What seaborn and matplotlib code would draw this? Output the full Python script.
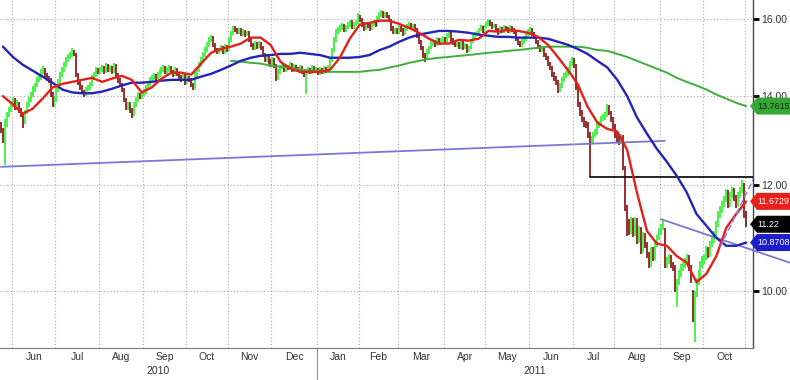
import numpy as np
import pandas as pd
import matplotlib
matplotlib.use("Agg")
import matplotlib.pyplot as plt
import matplotlib.transforms as mtransforms
from matplotlib.patches import Polygon
from matplotlib.ticker import NullLocator, NullFormatter, FixedLocator, FixedFormatter
import seaborn as sns

# Daily bars, one row per trading week (Mon..Fri), first day Mon 24 May 2010
first_open = 13.30
closes = [
    13.21, 12.98, 13.33, 13.56, 13.67,
    13.80, 13.91, 13.73, 13.82, 13.67,
    13.56, 13.39, 13.63, 13.80, 13.91,
    14.04, 14.16, 14.28, 14.40, 14.45,
    14.60, 14.65, 14.53, 14.45, 14.40,
    14.04, 13.80, 13.91, 14.16, 14.35,
    14.53, 14.65, 14.78, 14.91, 14.96,
    15.03, 15.11, 15.06, 14.53, 14.35,
    14.21, 14.11, 14.04, 14.16, 14.21,
    14.28, 14.45, 14.53, 14.65, 14.60,
    14.65, 14.71, 14.60, 14.76, 14.65,
    14.71, 14.60, 14.76, 14.53, 14.40,
    14.28, 14.16, 13.91, 13.73, 13.80,
    13.67, 13.56, 13.80, 13.91, 14.04,
    13.97, 14.04, 14.11, 14.21, 14.28,
    14.40, 14.45, 14.50, 14.40, 14.53,
    14.60, 14.65, 14.71, 14.60, 14.65,
    14.71, 14.60, 14.53, 14.65, 14.55,
    14.45, 14.40, 14.50, 14.35, 14.45,
    14.40, 14.28, 14.21, 14.53, 14.65,
    14.78, 14.91, 15.03, 15.16, 15.30,
    15.43, 15.49, 15.30, 15.16, 15.11,
    15.16, 15.22, 15.11, 15.25, 15.19,
    15.43, 15.62, 15.75, 15.70, 15.65,
    15.70, 15.59, 15.65, 15.57, 15.62,
    15.43, 15.30, 15.22, 15.33, 15.27,
    15.33, 15.22, 15.03, 14.91, 14.96,
    14.86, 14.78, 14.91, 14.76, 14.45,
    14.60, 14.71, 14.76, 14.65, 14.73,
    14.71, 14.78, 14.65, 14.73, 14.68,
    14.65, 14.71, 14.60, 14.53, 14.60,
    14.65, 14.60, 14.71, 14.63, 14.65,
    14.58, 14.65, 14.60, 14.68, 14.63,
    14.71, 14.91, 15.16, 15.43, 15.65,
    15.70, 15.75, 15.81, 15.70, 15.78,
    15.84, 15.92, 15.78, 15.86, 15.89,
    16.08, 15.97, 15.84, 15.75, 15.86,
    15.81, 15.75, 15.86, 15.92, 15.84,
    16.03, 16.11, 16.17, 16.08, 16.14,
    16.08, 15.97, 15.75, 15.65, 15.70,
    15.65, 15.75, 15.70, 15.59, 15.73,
    15.78, 15.84, 15.75, 15.81, 15.70,
    15.54, 15.38, 15.22, 15.03, 14.96,
    15.11, 15.22, 15.33, 15.38, 15.30,
    15.43, 15.35, 15.41, 15.46, 15.38,
    15.54, 15.59, 15.43, 15.35, 15.30,
    15.33, 15.25, 15.38, 15.22, 15.27,
    15.16, 15.22, 15.38, 15.49, 15.57,
    15.62, 15.70, 15.75, 15.67, 15.78,
    15.84, 15.92, 15.86, 15.78, 15.81,
    15.70, 15.62, 15.73, 15.67, 15.75,
    15.73, 15.67, 15.75, 15.70, 15.65,
    15.45, 15.35, 15.30, 15.38, 15.45,
    15.57, 15.65, 15.70, 15.59, 15.50,
    15.38, 15.25, 15.16, 15.20, 15.03,
    14.96, 14.81, 14.70, 14.55, 14.45,
    14.35, 14.15, 14.25, 14.40, 14.50,
    14.55, 14.65, 14.80, 14.91, 14.75,
    14.20, 13.80, 13.60, 13.45, 13.35,
    13.33, 13.10, 12.95, 12.98, 13.10,
    13.15, 13.30, 13.35, 13.45, 13.50,
    13.55, 13.73, 13.60, 13.45, 13.30,
    13.10, 13.00, 12.94, 13.05, 12.40,
    11.55, 11.25, 11.10, 11.30, 11.05,
    11.30, 10.92, 11.11, 10.73, 11.02,
    10.83, 10.64, 10.46, 10.73, 10.59,
    10.83, 10.96, 11.08, 11.15, 11.25,
    10.46, 10.55, 10.59, 10.46, 10.41,
    10.05, 10.15, 10.30, 10.41, 10.46,
    10.51, 10.59, 10.41, 10.20, 9.55,
    9.95, 10.15, 10.30, 10.46, 10.55,
    10.59, 10.73, 10.64, 10.83, 10.92,
    11.02, 11.21, 11.40, 11.50, 11.60,
    11.70, 11.86, 11.60, 11.80, 11.90,
    11.74, 11.60, 11.80, 11.90, 12.00,
    11.40, 11.22,
]
highs = [
    13.38, 13.26, 13.45, 13.62, 13.75,
    13.88, 13.98, 13.96, 13.90, 13.86,
    13.72, 13.60, 13.68, 13.86, 13.98,
    14.10, 14.24, 14.33, 14.48, 14.52,
    14.66, 14.75, 14.70, 14.58, 14.50,
    14.45, 14.10, 13.98, 14.22, 14.42,
    14.60, 14.72, 14.84, 14.98, 15.05,
    15.10, 15.22, 15.16, 15.08, 14.58,
    14.40, 14.26, 14.15, 14.22, 14.28,
    14.35, 14.52, 14.60, 14.72, 14.70,
    14.72, 14.78, 14.75, 14.82, 14.80,
    14.78, 14.75, 14.82, 14.80, 14.58,
    14.45, 14.32, 14.20, 13.96, 13.86,
    13.85, 13.72, 13.86, 13.98, 14.10,
    14.08, 14.10, 14.18, 14.28, 14.35,
    14.46, 14.52, 14.58, 14.55, 14.60,
    14.66, 14.72, 14.78, 14.75, 14.72,
    14.78, 14.75, 14.65, 14.72, 14.70,
    14.60, 14.52, 14.56, 14.55, 14.52,
    14.50, 14.45, 14.33, 14.60, 14.72,
    14.85, 14.98, 15.10, 15.24, 15.38,
    15.50, 15.56, 15.53, 15.35, 15.22,
    15.22, 15.30, 15.27, 15.32, 15.30,
    15.50, 15.68, 15.80, 15.80, 15.75,
    15.76, 15.74, 15.71, 15.70, 15.68,
    15.66, 15.48, 15.35, 15.40, 15.38,
    15.40, 15.38, 15.27, 15.08, 15.02,
    15.00, 14.92, 14.97, 14.95, 14.80,
    14.66, 14.78, 14.82, 14.80, 14.80,
    14.78, 14.84, 14.82, 14.80, 14.78,
    14.73, 14.77, 14.75, 14.65, 14.66,
    14.72, 14.70, 14.77, 14.76, 14.72,
    14.70, 14.72, 14.70, 14.74, 14.73,
    14.78, 14.98, 15.22, 15.50, 15.72,
    15.78, 15.82, 15.88, 15.86, 15.84,
    15.90, 15.98, 15.96, 15.92, 15.96,
    16.17, 16.12, 16.02, 15.90, 15.92,
    15.92, 15.86, 15.92, 15.98, 15.97,
    16.09, 16.18, 16.24, 16.22, 16.20,
    16.19, 16.12, 16.00, 15.80, 15.76,
    15.75, 15.82, 15.80, 15.75, 15.80,
    15.85, 15.90, 15.88, 15.87, 15.85,
    15.74, 15.58, 15.42, 15.26, 15.08,
    15.18, 15.28, 15.40, 15.45, 15.42,
    15.50, 15.47, 15.48, 15.52, 15.50,
    15.62, 15.66, 15.64, 15.48, 15.40,
    15.40, 15.38, 15.44, 15.42, 15.34,
    15.31, 15.28, 15.44, 15.56, 15.64,
    15.68, 15.76, 15.82, 15.80, 15.84,
    15.90, 15.99, 15.96, 15.90, 15.87,
    15.85, 15.76, 15.80, 15.78, 15.82,
    15.80, 15.78, 15.82, 15.80, 15.75,
    15.68, 15.50, 15.40, 15.44, 15.52,
    15.63, 15.72, 15.77, 15.75, 15.64,
    15.55, 15.42, 15.30, 15.26, 15.25,
    15.08, 15.00, 14.86, 14.75, 14.60,
    14.50, 14.40, 14.32, 14.46, 14.57,
    14.62, 14.72, 14.87, 14.98, 14.95,
    14.80, 14.25, 13.85, 13.66, 13.50,
    13.42, 13.38, 13.15, 13.06, 13.16,
    13.22, 13.36, 13.42, 13.52, 13.57,
    13.62, 13.80, 13.78, 13.65, 13.50,
    13.35, 13.16, 13.06, 13.12, 13.10,
    12.40, 11.60, 11.32, 11.36, 11.35,
    11.36, 11.35, 11.18, 11.16, 11.08,
    11.06, 10.88, 10.70, 10.79, 10.78,
    10.89, 11.02, 11.14, 11.22, 11.32,
    11.15, 10.61, 10.65, 10.64, 10.52,
    10.45, 10.20, 10.36, 10.48, 10.52,
    10.58, 10.66, 10.64, 10.46, 10.02,
    10.00, 10.22, 10.37, 10.53, 10.62,
    10.66, 10.80, 10.78, 10.90, 10.99,
    11.09, 11.28, 11.47, 11.57, 11.68,
    11.78, 11.93, 11.90, 11.87, 11.97,
    11.95, 11.80, 11.87, 11.97, 12.12,
    12.05, 11.48,
]
lows = [
    13.14, 12.92, 12.42, 13.28, 13.50,
    13.62, 13.74, 13.66, 13.68, 13.60,
    13.50, 13.26, 13.35, 13.58, 13.75,
    13.86, 13.98, 14.10, 14.22, 14.35,
    14.40, 14.55, 14.48, 14.38, 14.33,
    13.98, 13.73, 13.74, 13.86, 14.10,
    14.30, 14.48, 14.60, 14.72, 14.86,
    14.92, 14.98, 15.00, 14.48, 14.28,
    14.15, 14.04, 13.98, 14.00, 14.12,
    14.16, 14.24, 14.40, 14.48, 14.54,
    14.55, 14.60, 14.54, 14.56, 14.60,
    14.60, 14.55, 14.56, 14.48, 14.33,
    14.22, 14.10, 13.85, 13.67, 13.68,
    13.60, 13.49, 13.52, 13.75, 13.86,
    13.92, 13.92, 14.00, 14.06, 14.16,
    14.24, 14.35, 14.40, 14.35, 14.36,
    14.48, 14.55, 14.60, 14.55, 14.55,
    14.60, 14.55, 14.48, 14.50, 14.50,
    14.40, 14.34, 14.36, 14.28, 14.30,
    14.34, 14.22, 14.14, 14.18, 14.48,
    14.60, 14.72, 14.86, 14.98, 15.10,
    15.25, 15.38, 15.24, 15.10, 15.05,
    15.06, 15.11, 15.05, 15.06, 15.12,
    15.14, 15.38, 15.57, 15.64, 15.58,
    15.60, 15.53, 15.54, 15.50, 15.52,
    15.37, 15.24, 15.15, 15.17, 15.20,
    15.22, 15.16, 14.97, 14.85, 14.86,
    14.80, 14.72, 14.73, 14.70, 14.38,
    14.40, 14.55, 14.66, 14.60, 14.60,
    14.65, 14.66, 14.60, 14.60, 14.62,
    14.60, 14.60, 14.55, 14.47, 14.04,
    14.55, 14.54, 14.55, 14.58, 14.58,
    14.52, 14.52, 14.54, 14.55, 14.57,
    14.58, 14.66, 14.86, 15.10, 15.38,
    15.60, 15.64, 15.70, 15.64, 15.65,
    15.72, 15.79, 15.72, 15.73, 15.80,
    15.85, 15.90, 15.78, 15.68, 15.70,
    15.75, 15.68, 15.70, 15.80, 15.78,
    15.80, 15.98, 16.05, 16.02, 16.03,
    16.02, 15.90, 15.68, 15.58, 15.60,
    15.58, 15.60, 15.64, 15.52, 15.55,
    15.68, 15.72, 15.70, 15.70, 15.64,
    15.48, 15.32, 15.16, 14.96, 14.86,
    14.92, 15.06, 15.18, 15.28, 15.25,
    15.26, 15.30, 15.30, 15.36, 15.32,
    15.34, 15.48, 15.38, 15.30, 15.24,
    15.25, 15.20, 15.20, 15.16, 15.18,
    15.09, 15.10, 15.18, 15.34, 15.44,
    15.52, 15.58, 15.66, 15.62, 15.62,
    15.74, 15.80, 15.80, 15.72, 15.74,
    15.64, 15.56, 15.58, 15.62, 15.62,
    15.68, 15.62, 15.62, 15.64, 15.58,
    15.40, 15.30, 15.24, 15.25, 15.33,
    15.40, 15.52, 15.60, 15.53, 15.44,
    15.32, 15.18, 15.10, 15.10, 14.97,
    14.90, 14.75, 14.64, 14.48, 14.38,
    14.28, 14.08, 14.10, 14.20, 14.35,
    14.45, 14.50, 14.60, 14.75, 14.70,
    14.14, 13.73, 13.52, 13.38, 13.28,
    13.26, 13.03, 12.18, 12.90, 12.92,
    13.04, 13.10, 13.24, 13.30, 13.40,
    13.44, 13.50, 13.54, 13.38, 13.22,
    13.03, 12.93, 12.87, 12.88, 12.32,
    11.48, 11.00, 11.02, 11.04, 10.98,
    11.00, 10.85, 10.86, 10.66, 10.68,
    10.77, 10.58, 10.40, 10.42, 10.53,
    10.55, 10.78, 10.91, 11.02, 11.10,
    10.40, 10.40, 10.48, 10.40, 10.35,
    9.98, 9.72, 10.10, 10.25, 10.35,
    10.40, 10.45, 10.35, 10.14, 9.48,
    9.15, 9.90, 10.10, 10.25, 10.40,
    10.48, 10.54, 10.58, 10.60, 10.78,
    10.87, 10.97, 11.16, 11.35, 11.45,
    11.55, 11.65, 11.54, 11.55, 11.75,
    11.68, 11.54, 11.55, 11.75, 11.85,
    11.34, 11.16,
]

# Moving averages read weekly (Tuesdays, from 25 May 2010)
ma_fast = [
    14.00, 13.80, 13.58, 13.70, 13.94, 14.21, 14.30, 14.35, 14.40, 14.45,
    14.35, 14.43, 14.50, 14.40, 14.09, 14.21, 14.43, 14.58, 14.58, 14.53,
    14.81, 15.09, 15.19, 15.25, 15.33, 15.49, 15.49, 15.30, 14.86, 14.68,
    14.60, 14.60, 14.60, 14.65, 14.96, 15.46, 15.84, 15.89, 15.95, 15.95,
    15.86, 15.75, 15.62, 15.46, 15.33, 15.33, 15.43, 15.41, 15.46, 15.67,
    15.65, 15.70, 15.67, 15.62, 15.51, 15.30, 14.98, 14.65, 14.30, 13.75,
    13.37, 13.23, 13.17, 12.76, 11.84, 11.09, 10.85, 10.81, 10.62, 10.50,
    10.15, 10.30, 10.62, 11.15, 11.42, 11.67,
]
ma_mid = [
    15.25, 14.98, 14.78, 14.63, 14.48, 14.33, 14.16, 14.09, 14.07, 14.07,
    14.11, 14.18, 14.26, 14.33, 14.33, 14.35, 14.38, 14.40, 14.40, 14.40,
    14.48, 14.55, 14.65, 14.76, 14.88, 14.96, 15.01, 15.03, 15.06, 15.06,
    15.09, 15.06, 15.03, 14.96, 14.96, 14.96, 14.98, 15.03, 15.16, 15.25,
    15.38, 15.49, 15.57, 15.62, 15.67, 15.67, 15.65, 15.62, 15.57, 15.54,
    15.51, 15.51, 15.49, 15.49, 15.49, 15.46, 15.38, 15.30, 15.19, 15.06,
    14.88, 14.71, 14.40, 14.00, 13.49, 13.12, 12.78, 12.50, 12.20, 11.86,
    11.42, 11.19, 10.96, 10.81, 10.81, 10.87,
]
ma_slow_first_week = 23
ma_slow = [
    14.88, 14.86, 14.83, 14.81, 14.76, 14.73, 14.71, 14.65, 14.63, 14.63,
    14.60, 14.60, 14.60, 14.60, 14.63, 14.65, 14.71, 14.76, 14.83, 14.88,
    14.93, 14.96, 14.98, 15.01, 15.03, 15.06, 15.09, 15.11, 15.14, 15.16,
    15.19, 15.22, 15.25, 15.25, 15.25, 15.25, 15.22, 15.16, 15.14, 15.06,
    14.98, 14.88, 14.78, 14.68, 14.58, 14.45, 14.35, 14.26, 14.16, 14.04,
    13.94, 13.84, 13.76,
]

# Hand-drawn lines: start date, start value, end date, end value
support_line = ["2010-05-24", 12.39, "2011-09-03", 12.96]
falling_line = ["2011-09-01", 11.32, "2011-12-01", 10.50]
breakdown_line = ["2011-07-13", 12.18, "2011-11-06", 12.18]
rebound_line = ["2011-10-13", 10.79, "2011-11-06", 12.16]

last_values = [13.7615, 11.6729, 11.22, 10.8708]
last_labels = ["13.7615", "11.6729", "11.22", "10.8708"]
label_fill = ["#35a835", "#e8201c", "#000000", "#1c1ccc"]
label_text = ["#0b2a0b", "white", "white", "white"]
y_ticks = [10, 12, 14, 16]
y_tick_labels = ["10.00", "12.00", "14.00", "16.00"]
year_labels = ["2010", "2011"]

start_day = "2010-05-24"
weeks = pd.date_range("2010-05-25", periods=len(ma_fast), freq="7D")
month_starts = pd.date_range("2010-06-01", "2011-11-01", freq="MS")


def tpos(dates):
    # trading-day position on the x axis
    d = pd.to_datetime(pd.Index(dates)).values.astype("datetime64[D]")
    return np.busday_count(np.datetime64(start_day), d).astype(float)


sns.set_theme(style="white")
plt.rcParams["font.family"] = ["Liberation Sans", "DejaVu Sans"]

fig = plt.figure(figsize=(7.9, 3.8), dpi=100)
ax = fig.add_axes([0, 32 / 380, 753 / 790, 348 / 380])

# price bars, coloured by change from previous close
x = np.arange(len(closes))
c = np.array(closes)
o = np.r_[first_open, c[:-1]]
up = c >= o
h = np.array(highs)
l = np.array(lows)
ax.vlines(x[up], l[up], h[up], color="#3ef03e", lw=1.3, zorder=2)
ax.vlines(x[~up], l[~up], h[~up], color="#8e1f1f", lw=1.3, zorder=2)

ma = pd.DataFrame({"pos": tpos(weeks), "fast": ma_fast, "mid": ma_mid})
slow = pd.DataFrame({"pos": tpos(weeks[ma_slow_first_week:]), "slow": ma_slow})
sns.lineplot(data=slow, x="pos", y="slow", color="#3fae3a", lw=1.4, ax=ax, zorder=3)
sns.lineplot(data=ma, x="pos", y="mid", color="#2424b4", lw=1.7, ax=ax, zorder=4)
sns.lineplot(data=ma, x="pos", y="fast", color="#e3211c", lw=1.7, ax=ax, zorder=5)


def draw_line(spec, **kw):
    ax.plot(tpos([spec[0], spec[2]]), [spec[1], spec[3]], **kw)


draw_line(support_line, color="#7a78d2", lw=1.3, zorder=3)
draw_line(falling_line, color="#7a78d2", lw=1.3, zorder=3, clip_on=False)
draw_line(breakdown_line, color="black", lw=1.2, zorder=3)
draw_line(rebound_line, color="#7d86e0", lw=1.1, ls=(0, (4, 2)), zorder=6)

ax.set_yscale("log")
ax.set_ylim(9.06, 16.53)
ax.set_xlim(-0.5, 379.5)
ax.set_xlabel("")
ax.set_ylabel("")

ax.yaxis.tick_right()
ax.set_yticks(y_ticks)
ax.set_yticklabels(y_tick_labels)
ax.yaxis.set_minor_locator(NullLocator())
ax.tick_params(axis="y", which="major", direction="out", length=4, width=2,
               color="black", labelsize=7.5, labelcolor="#333333", pad=2)

# month boundaries as ticks/grid, month names centred between them
bounds = tpos(month_starts) - 0.5
mids = (bounds[:-1] + bounds[1:]) / 2
ax.xaxis.set_major_locator(FixedLocator(bounds))
ax.xaxis.set_major_formatter(NullFormatter())
ax.xaxis.set_minor_locator(FixedLocator(mids))
ax.xaxis.set_minor_formatter(FixedFormatter([d.strftime("%b") for d in month_starts[:-1]]))
ax.tick_params(axis="x", which="major", direction="out", length=5, width=0.8, color="#777777")
ax.tick_params(axis="x", which="minor", length=0, labelsize=7.5, labelcolor="#333333", pad=3)

ax.grid(True, which="major", ls=(0, (1, 2)), color="#a8a8a8", lw=0.8)
for side in ["left", "top"]:
    ax.spines[side].set_visible(False)
ax.spines["right"].set_color("#444444")
ax.spines["right"].set_linewidth(1.0)
ax.spines["bottom"].set_color("#777777")
ax.spines["bottom"].set_linewidth(0.8)

# last value tags on the right axis (arrow shaped boxes, drawn in pixels)
trans = mtransforms.blended_transform_factory(ax.transAxes, ax.transData)
for val, txt, fc, tc in zip(last_values, last_labels, label_fill, label_text):
    yd = ax.transData.transform((0, val))[1]
    tag = Polygon([(750, yd), (757, yd + 8.5), (790, yd + 8.5), (790, yd - 8.5), (757, yd - 8.5)],
                  closed=True, fc=fc, ec="none", transform=mtransforms.IdentityTransform(),
                  zorder=7, clip_on=False)
    ax.add_artist(tag)
    ax.text(757.5 / 753, val, txt, transform=trans, ha="left", va="center", fontsize=6.5,
            color=tc, zorder=8, clip_on=False)

# year labels below the months
trans_x = mtransforms.blended_transform_factory(ax.transData, ax.transAxes)
x0, x1 = ax.get_xlim()
split = tpos(["2011-01-01"])[0] - 0.5
for lab, (a, b) in zip(year_labels, [(x0, split), (split, x1)]):
    ax.text((a + b) / 2, -0.066, lab, transform=trans_x, ha="center", va="center",
            fontsize=7.5, color="#333333")
ax.plot([split, split], [0, -0.095], transform=trans_x, color="#999999", lw=0.8, clip_on=False)

fig.savefig("out.png", dpi=100)
